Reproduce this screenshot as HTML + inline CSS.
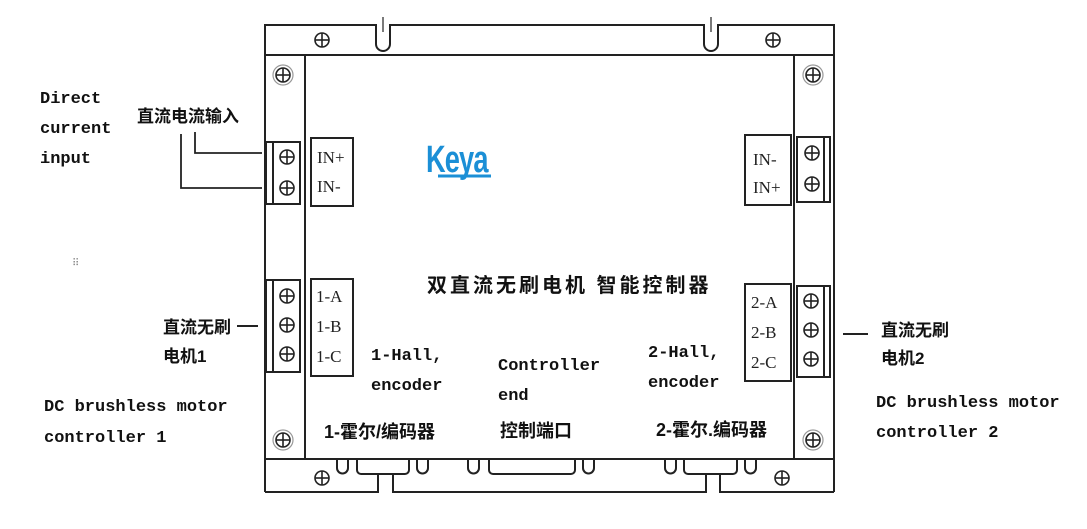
<!DOCTYPE html>
<html><head><meta charset="utf-8"><style>
html,body{margin:0;padding:0;background:#fff;width:1087px;height:529px;overflow:hidden}
svg{display:block}
.en{font-family:"Liberation Mono",monospace;font-weight:bold;font-size:17px;fill:#111}
.cn{font-family:"Liberation Sans","Noto Sans CJK SC",sans-serif;font-weight:bold;fill:#111}
.lb{font-family:"Liberation Serif","Noto Serif CJK SC",serif;font-size:17px;fill:#222}
</style></head><body>
<svg width="1087" height="529" viewBox="0 0 1087 529" xmlns="http://www.w3.org/2000/svg">
<defs>
<g id="s"><circle r="7" fill="none" stroke="#222" stroke-width="1.6"/><line x1="-7" y1="0" x2="7" y2="0" stroke="#222" stroke-width="1.6"/><line x1="0" y1="-7" x2="0" y2="7" stroke="#222" stroke-width="1.6"/></g>
<g id="ds"><circle r="10" fill="none" stroke="#999" stroke-width="1.2"/><use href="#s"/></g>
</defs>
<g fill="none" stroke="#222" stroke-width="2">
<path d="M265,492 V25 H376 V44 a7,7 0 0 0 14,0 V25 H704 V44 a7,7 0 0 0 14,0 V25 H834 V492"/>
<line x1="383" y1="17" x2="383" y2="32" stroke-width="1.2"/>
<line x1="711" y1="17" x2="711" y2="32" stroke-width="1.2"/>
<line x1="265" y1="55" x2="834" y2="55"/>
<line x1="305" y1="55" x2="305" y2="459"/>
<line x1="794" y1="55" x2="794" y2="459"/>
<line x1="265" y1="459" x2="834" y2="459"/>
<path d="M265,492 H378 V476 M393,476 V492 H706 V476 M720,476 V492 H834"/>
<path d="M337,459 V468 a5.5,5.5 0 0 0 11,0 V459"/>
<path d="M357,459 V470 a4,4 0 0 0 4,4 H405 a4,4 0 0 0 4,-4 V459 M378,474 V476 M393,474 V476"/>
<path d="M417,459 V468 a5.5,5.5 0 0 0 11,0 V459"/>
<path d="M468,459 V468 a5.5,5.5 0 0 0 11,0 V459"/>
<path d="M489,459 V470 a4,4 0 0 0 4,4 H571 a4,4 0 0 0 4,-4 V459"/>
<path d="M583,459 V468 a5.5,5.5 0 0 0 11,0 V459"/>
<path d="M665,459 V468 a5.5,5.5 0 0 0 11,0 V459"/>
<path d="M684,459 V470 a4,4 0 0 0 4,4 H733 a4,4 0 0 0 4,-4 V459 M706,474 V476 M720,474 V476"/>
<path d="M745,459 V468 a5.5,5.5 0 0 0 11,0 V459"/>
<rect x="266" y="142" width="34" height="62"/><line x1="273" y1="142" x2="273" y2="204"/>
<rect x="311" y="138" width="42" height="68"/>
<rect x="745" y="135" width="46" height="70"/>
<rect x="797" y="137" width="33" height="65"/><line x1="824" y1="137" x2="824" y2="202"/>
<rect x="266" y="280" width="34" height="92"/><line x1="273" y1="280" x2="273" y2="372"/>
<rect x="311" y="279" width="42" height="97"/>
<rect x="745" y="284" width="46" height="97"/>
<rect x="797" y="286" width="33" height="91"/><line x1="824" y1="286" x2="824" y2="377"/>
<path d="M195,132 V153 H262" stroke-width="1.8"/>
<path d="M181,134 V188 H262" stroke-width="1.8"/>
<line x1="237" y1="326" x2="258" y2="326"/>
<line x1="843" y1="334" x2="868" y2="334"/>
</g>
<use href="#s" x="322" y="40"/><use href="#s" x="773" y="40"/>
<use href="#ds" x="283" y="75"/><use href="#ds" x="813" y="75"/>
<use href="#ds" x="283" y="440"/><use href="#ds" x="813" y="440"/>
<use href="#s" x="322" y="478"/><use href="#s" x="782" y="478"/>
<use href="#s" x="287" y="157"/><use href="#s" x="287" y="188"/>
<use href="#s" x="812" y="153"/><use href="#s" x="812" y="184"/>
<use href="#s" x="287" y="296"/><use href="#s" x="287" y="325"/><use href="#s" x="287" y="354"/>
<use href="#s" x="811" y="301"/><use href="#s" x="811" y="330"/><use href="#s" x="811" y="359"/>
<text x="0" y="0" transform="translate(426,172) scale(0.85,1.2)" font-family="Liberation Sans,sans-serif" font-weight="bold" font-size="32" fill="#1b8fd6" letter-spacing="-1">Keya</text>
<line x1="438" y1="176" x2="491" y2="176" stroke="#1b8fd6" stroke-width="3"/>
<text class="lb" x="317" y="163">IN+</text><text class="lb" x="317" y="192">IN-</text>
<text class="lb" x="753" y="165">IN-</text><text class="lb" x="753" y="193">IN+</text>
<text class="lb" x="316" y="302">1-A</text><text class="lb" x="316" y="332">1-B</text><text class="lb" x="316" y="362">1-C</text>
<text class="lb" x="751" y="308">2-A</text><text class="lb" x="751" y="338">2-B</text><text class="lb" x="751" y="368">2-C</text>
<text class="cn" x="427" y="292" font-size="20" letter-spacing="3" font-family="Noto Serif CJK SC,serif">双直流无刷电机 智能控制器</text>
<text class="en" x="371" y="360">1-Hall,</text><text class="en" x="371" y="390">encoder</text>
<text class="en" x="498" y="370">Controller</text><text class="en" x="498" y="400">end</text>
<text class="en" x="648" y="357">2-Hall,</text><text class="en" x="648" y="387">encoder</text>
<text class="cn" x="324" y="438" font-size="18">1-霍尔/编码器</text>
<text class="cn" x="500" y="437" font-size="18">控制端口</text>
<text class="cn" x="656" y="436" font-size="18">2-霍尔.编码器</text>
<text class="en" x="40" y="103">Direct</text><text class="en" x="40" y="133">current</text><text class="en" x="40" y="163">input</text>
<text class="cn" x="137" y="122" font-size="17">直流电流输入</text>
<text class="cn" x="163" y="333" font-size="17">直流无刷</text><text class="cn" x="163" y="362" font-size="17">电机1</text>
<text class="cn" x="881" y="336" font-size="17">直流无刷</text><text class="cn" x="881" y="364" font-size="17">电机2</text>
<text class="en" x="44" y="411">DC brushless motor</text><text class="en" x="44" y="442">controller 1</text>
<text class="en" x="876" y="407">DC brushless motor</text><text class="en" x="876" y="437">controller 2</text>
<text x="72" y="266" font-size="10" fill="#888" font-family="DejaVu Sans,sans-serif">⠿</text>
</svg>
</body></html>
